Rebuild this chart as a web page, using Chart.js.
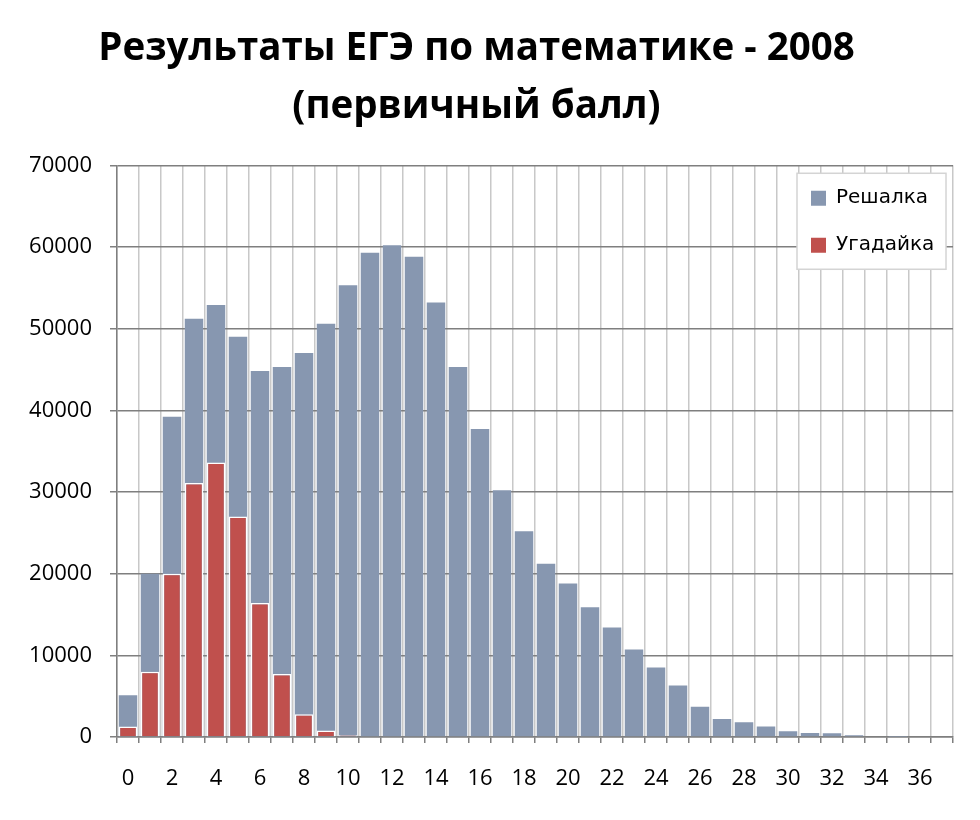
<!DOCTYPE html>
<html>
<head>
<meta charset="utf-8">
<script src="https://cdn.jsdelivr.net/npm/chart.js@4.4.0/dist/chart.umd.min.js"></script>
<style>
  html, body { margin: 0; padding: 0; background: #ffffff; }
  #wrap { width: 980px; height: 820px; }
</style>
</head>
<body>
<div id="wrap"><canvas id="c" width="980" height="820"></canvas></div>
<script>
const categories = ['0','1','2','3','4','5','6','7','8','9','10','11','12','13','14','15','16','17','18','19','20','21','22','23','24','25','26','27','28','29','30','31','32','33','34','35','36','37'];
const reshalka = [5100,20000,39200,51200,52900,49000,44800,45300,47000,50600,55300,59300,60200,58800,53200,45300,37700,30200,25200,21200,18800,15900,13400,10700,8500,6300,3700,2200,1800,1300,700,500,450,200,100,30,0,0];
const ugadayka = [1300,8000,20000,31100,33600,27000,16400,7700,2800,800,200,0,0,0,0,0,0,0,0,0,0,0,0,0,0,0,0,0,0,0,0,0,0,0,0,0,0,0];
const yTicks = [0,10000,20000,30000,40000,50000,60000,70000];
const titleLines = ['Результаты ЕГЭ по математике - 2008', '(первичный балл)'];
const seriesNames = ['Решалка', 'Угадайка'];

const GRAY = '#8797b0';
const RED = '#c0504d';

const legendPlacer = {
  id: 'legendPlacer',
  afterLayout(chart) {
    const lg = chart.legend;
    const ca = chart.chartArea;
    const pad = lg.options.labels.padding;
    lg.left = ca.right - 7 - 149 + 14 - pad;
    lg.top = ca.top + 23 - pad;
    lg.right = lg.left + 260;
    lg.bottom = lg.top + 200;
    lg.width = 260;
    lg.height = 200;
    if (!lg._patched) {
      const orig = lg.draw.bind(lg);
      lg.draw = function (area) {
        const c = chart.chartArea;
        const ctx = chart.ctx;
        const bx = c.right - 7 - 149, by = c.top + 8, bw = 149, bh = 96;
        ctx.save();
        ctx.fillStyle = '#ffffff';
        ctx.fillRect(bx, by, bw, bh);
        ctx.strokeStyle = '#d4d4d4';
        ctx.lineWidth = 1.5;
        ctx.strokeRect(bx, by, bw, bh);
        ctx.restore();
        orig(area);
      };
      lg._patched = true;
    }
  }
};

new Chart(document.getElementById('c'), {
  type: 'bar',
  data: {
    labels: categories,
    datasets: [
      { label: seriesNames[0], data: reshalka, backgroundColor: GRAY, borderWidth: 0, grouped: false, order: 1,
        barPercentage: 0.84, categoryPercentage: 1.0 },
      { label: seriesNames[1], data: ugadayka, backgroundColor: RED, borderColor: '#ffffff', borderWidth: 1.5, grouped: false, order: 0,
        barPercentage: 0.84, categoryPercentage: 1.0 }
    ]
  },
  options: {
    responsive: false,
    animation: false,
    layout: { padding: { left: 0, right: 27, top: 0, bottom: 0 } },
    plugins: {
      title: {
        display: true,
        text: titleLines,
        color: '#000000',
        font: { family: 'Open Sans', weight: 'bold', size: 38.5, lineHeight: 1.51 },
        padding: { top: 20, bottom: 29 }
      },
      legend: {
        position: 'chartArea',
        align: 'start',
        labels: {
          color: '#000000',
          font: { family: 'DejaVu Sans', size: 20 },
          boxWidth: 15,
          boxHeight: 15,
          padding: 27,
          sort: (a, b) => a.datasetIndex - b.datasetIndex,
          generateLabels: (chart) => Chart.defaults.plugins.legend.labels.generateLabels(chart).map(l => Object.assign(l, { lineWidth: 0, strokeStyle: l.fillStyle }))
        }
      },
      tooltip: { enabled: false }
    },
    scales: {
      x: {
        offset: true,
        grid: { offset: true, color: '#c8c8c8', lineWidth: 1.5, tickLength: 6, tickColor: '#7f7f7f', drawTicks: true },
        border: { color: '#7f7f7f', width: 1.5 },
        ticks: {
          autoSkip: false, maxRotation: 0, minRotation: 0,
          color: '#000000', padding: 23,
          font: { family: 'Open Sans', size: 22 },
          callback: function (v, i) { return i % 2 === 0 ? categories[i] : ''; }
        },
        afterFit: (s) => { s.height = 83; }
      },
      y: {
        min: 0, max: 70000,
        afterBuildTicks: (s) => { s.ticks = yTicks.map(v => ({ value: v })); },
        grid: { color: '#7f7f7f', lineWidth: 1.5, tickLength: 7, tickColor: '#7f7f7f' },
        border: { color: '#7f7f7f', width: 1.5 },
        ticks: {
          color: '#000000', padding: 18,
          font: { family: 'Open Sans', size: 22 },
          callback: (v) => String(v)
        },
        afterFit: (s) => { s.width = 117; }
      }
    }
  },
  plugins: [legendPlacer]
});
</script>
</body>
</html>
